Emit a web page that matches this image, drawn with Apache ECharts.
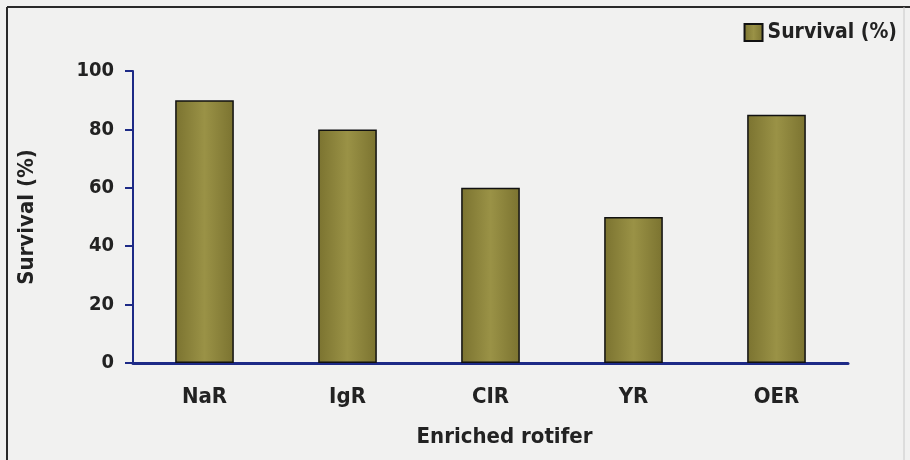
<!DOCTYPE html>
<html>
<head>
<meta charset="utf-8">
<script src="https://cdn.jsdelivr.net/npm/echarts@6/dist/echarts.min.js"></script>
<style>
  html, body { margin: 0; padding: 0; background: #f1f1f0; }
  #chart { width: 910px; height: 460px; }
</style>
</head>
<body>
<div id="chart"></div>
<script>
// survival of larvae fed with enriched rotifers
var categories = ['NaR', 'IgR', 'CIR', 'YR', 'OER'];
var survival = [90, 80, 60, 50, 85];
var yTicks = { min: 0, max: 100, interval: 20 };

var font = "'Liberation Sans Narrow', 'Arial Narrow', 'DejaVu Sans Condensed', sans-serif";
var navy = '#1d2a86';
var olive = new echarts.graphic.LinearGradient(0, 0, 1, 0, [
  { offset: 0, color: '#7b7330' },
  { offset: 0.5, color: '#9a9246' },
  { offset: 1, color: '#7b7330' }
]);

var myChart = echarts.init(document.getElementById('chart'));
myChart.setOption({
  backgroundColor: '#f1f1f0',
  animation: false,
  grid: { left: 133, right: 62, top: 71, bottom: 97, containLabel: false },
  legend: {
    right: 8, top: 17,
    icon: 'rect', itemWidth: 18, itemHeight: 17, itemGap: 6,
    textStyle: { fontFamily: font, fontWeight: 'bold', fontSize: 21, color: '#222' },
    data: ['Survival (%)']
  },
  xAxis: {
    type: 'category',
    data: categories,
    name: 'Enriched rotifer',
    nameLocation: 'middle',
    nameGap: 63,
    nameTextStyle: { fontFamily: font, fontWeight: 'bold', fontSize: 22, color: '#222', padding: [0, 0, 0, 28] },
    axisLine: { lineStyle: { color: navy, width: 3 } },
    axisTick: { show: false },
    axisLabel: { margin: 23, fontFamily: font, fontWeight: 'bold', fontSize: 22, color: '#222' }
  },
  yAxis: {
    type: 'value',
    min: yTicks.min, max: yTicks.max, interval: yTicks.interval,
    name: 'Survival (%)',
    nameLocation: 'middle',
    nameGap: 95,
    nameTextStyle: { fontFamily: font, fontWeight: 'bold', fontSize: 22, color: '#222' },
    axisLine: { show: true, lineStyle: { color: navy, width: 2 } },
    axisTick: { show: true, length: 8, lineStyle: { color: navy, width: 2 } },
    axisLabel: { margin: 19, fontFamily: font, fontWeight: 'bold', fontSize: 20, color: '#222' },
    splitLine: { show: false }
  },
  series: [{
    name: 'Survival (%)',
    type: 'bar',
    data: survival,
    barWidth: '41%',
    itemStyle: { color: olive, borderColor: '#111', borderWidth: 1.5 }
  }],
  graphic: [
    { type: 'line', shape: { x1: 7, y1: 7, x2: 910, y2: 7 }, style: { stroke: '#2a2a2a', lineWidth: 2 } },
    { type: 'line', shape: { x1: 7, y1: 7, x2: 7, y2: 460 }, style: { stroke: '#2a2a2a', lineWidth: 2 } },
    { type: 'line', shape: { x1: 904, y1: 7, x2: 904, y2: 460 }, style: { stroke: '#c8c8c8', lineWidth: 1 } }
  ]
});
</script>
</body>
</html>
